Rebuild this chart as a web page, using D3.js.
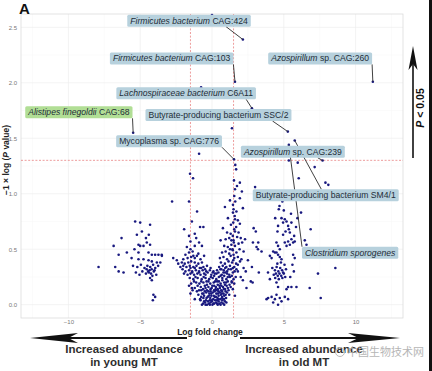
<!DOCTYPE html>
<html>
<head>
<meta charset="utf-8">
<script src="https://cdn.jsdelivr.net/npm/d3@7"></script>
<style>
  html, body { margin: 0; padding: 0; background: #fff; }
  svg { display: block; font-family: "Liberation Sans", Arial, sans-serif; }
</style>
</head>
<body>
<svg id="chart" width="432" height="371"></svg>
<script>
// tick labels and cut-offs
const xTicks = [-10, -5, 0, 5, 10];
const yTicks = [0, 0.5, 1, 1.5, 2, 2.5];
const foldCut = 1.5;
const pCut = 1.301; // -log10(0.05)

// labelled species: point (x, y) and label centre (lx, ly), in data units
const labelled = [
  { it: "Firmicutes bacterium", rest: " CAG:424", x: 2.15, y: 2.39, lx: -1.6, ly: 2.56, fx: 0.8, fy: 1 },
  { it: "Firmicutes bacterium", rest: " CAG:103", x: 1.6, y: 2.01, lx: -2.81, ly: 2.22, fx: 1, fy: 1 },
  { it: "Azospirillum", rest: " sp. CAG:260", x: 11.2, y: 2.01, lx: 7.53, ly: 2.22, fx: 1, fy: 1 },
  { it: "Lachnospiraceae bacterium", rest: " C6A11", x: 2.78, y: 1.77, lx: -1.8, ly: 1.905, fx: 0.93, fy: 1 },
  { it: "", rest: "Butyrate-producing bacterium SSC/2", x: 5.28, y: 1.56, lx: 0.45, ly: 1.71, fx: 0.87, fy: 1 },
  { it: "Alistipes finegoldii", rest: " CAG:68", x: -5.49, y: 1.55, lx: -9.27, ly: 1.734, fx: 1, fy: 1, green: true },
  { it: "", rest: "Mycoplasma sp. CAG:776", x: 1.53, y: 1.31, lx: -2.99, ly: 1.473, fx: 1, fy: 1 },
  { it: "Azospirillum", rest: " sp. CAG:239", x: 7.7, y: 1.3, lx: 5.63, ly: 1.378, fx: 0.74, fy: 1 },
  { it: "", rest: "Butyrate-producing bacterium SM4/1", x: 5.76, y: 1.48, lx: 7.92, ly: 0.986, fx: 0.47, fy: 0 },
  { it: "Clostridium sporogenes", rest: "", x: 5.35, y: 1.44, lx: 9.62, ly: 0.468, fx: 0, fy: 0 },
];

// unlabelled species, [log fold change, -log10 p]
const highPoints = [
  [0.0, 2.61], [-0.76, 1.96], [1.39, 1.59], [-0.9, 1.36], [-1.53, 1.18], [-1.32, 1.14],
  [1.62, 1.26], [1.68, 1.22], [5.35, 1.3], [5.97, 1.28], [7.15, 1.24], [6.04, 1.14],
  [7.9, 1.1], [8.1, 1.08], [3.0, 1.06],
];

const leftCluster = [
  [-7.9, 0.34], [-6.85, 0.53], [-6.74, 0.34], [-6.5, 0.45], [-6.5, 0.3], [-6.3, 0.6],
  [-6.16, 0.29], [-5.93, 0.47], [-5.35, 0.75], [-5.0, 0.74], [-4.31, 0.72], [-5.23, 0.63],
  [-4.88, 0.66], [-5.12, 0.54], [-5.0, 0.53], [-4.77, 0.53], [-4.54, 0.56], [-4.31, 0.54],
  [-5.12, 0.47], [-4.42, 0.47], [-4.19, 0.45], [-3.96, 0.45], [-3.73, 0.45], [-3.49, 0.44],
  [-5.12, 0.41], [-4.77, 0.41], [-4.42, 0.4], [-4.19, 0.39], [-3.84, 0.38],
  [-5.5, 0.35], [-5.2, 0.34], [-4.95, 0.36], [-4.7, 0.33], [-4.5, 0.35], [-4.3, 0.34],
  [-4.1, 0.36], [-3.95, 0.33], [-3.75, 0.35], [-5.3, 0.29], [-5.05, 0.27], [-4.85, 0.3],
  [-4.6, 0.28], [-4.45, 0.3], [-4.25, 0.28], [-4.05, 0.3], [-3.88, 0.27], [-4.55, 0.32],
  [-4.35, 0.31], [-4.2, 0.32], [-4.0, 0.31], [-4.4, 0.29], [-4.15, 0.26], [-4.19, 0.22],
  [-4.31, 0.24], [-4.08, 0.09], [-3.96, 0.07], [-4.12, 0.04], [-5.6, 0.42], [-4.6, 0.6],
  [-4.4, 0.63], [-3.6, 0.38], [-5.4, 0.5],
];

const centreCluster = [
  [-0.62, 0.01], [-0.48, 0.02], [-0.35, 0.0], [-0.22, 0.01], [-0.1, 0.02], [0.03, 0.0],
  [0.15, 0.01], [0.28, 0.02], [0.4, 0.0], [0.52, 0.01], [0.66, 0.02], [0.78, 0.01],
  [0.9, 0.03], [-0.42, 0.04], [-0.16, 0.04], [0.09, 0.05], [0.34, 0.04], [0.58, 0.05],
  [0.83, 0.05], [-0.55, 0.03], [-0.28, 0.03], [0.0, 0.03], [0.22, 0.04], [0.46, 0.03],
  [0.72, 0.04], [-0.6, 0.06], [-0.12, 0.06], [0.38, 0.06], [0.62, 0.09], [-0.25, 0.12],
  [0.18, 0.12], [0.45, 0.12], [-0.5, 0.12], [0.7, 0.12],
  [-0.75, 0.07], [-0.55, 0.08], [-0.3, 0.07], [-0.05, 0.08], [0.2, 0.07], [0.46, 0.08],
  [0.7, 0.07], [0.95, 0.09], [-0.68, 0.1], [-0.4, 0.11], [-0.18, 0.1], [0.05, 0.11],
  [0.3, 0.1], [0.55, 0.11], [0.8, 0.1], [1.05, 0.11],
  [-0.9, 0.13], [-0.62, 0.14], [-0.35, 0.13], [-0.1, 0.14], [0.14, 0.13], [0.4, 0.14],
  [0.64, 0.13], [0.9, 0.14], [1.15, 0.13], [-1.2, 0.15], [-0.78, 0.16], [-0.5, 0.17],
  [-0.25, 0.16], [0.02, 0.17], [0.27, 0.16], [0.52, 0.17], [0.77, 0.16], [1.02, 0.17], [1.3, 0.16],
  [-1.45, 0.19], [-1.1, 0.2], [-0.88, 0.19], [-0.6, 0.2], [-0.38, 0.21], [-0.12, 0.19],
  [0.12, 0.2], [0.36, 0.21], [0.6, 0.19], [0.85, 0.2], [1.1, 0.21], [1.38, 0.2],
  [-1.3, 0.23], [-1.0, 0.24], [-0.72, 0.23], [-0.45, 0.24], [-0.2, 0.23], [0.05, 0.24],
  [0.3, 0.23], [0.48, 0.25], [0.72, 0.24], [1.0, 0.23], [1.25, 0.25],
  [-1.7, 0.27], [-1.5, 0.28], [-1.25, 0.27], [-1.02, 0.28], [-0.8, 0.27], [-0.55, 0.28],
  [-0.3, 0.29], [-0.05, 0.27], [0.2, 0.28], [0.45, 0.29], [0.68, 0.27], [0.92, 0.29],
  [1.2, 0.27], [1.45, 0.29], [-1.85, 0.3], [-1.6, 0.31], [-1.38, 0.3], [-1.12, 0.31],
  [-0.9, 0.3], [-0.65, 0.31], [-0.4, 0.3], [-0.15, 0.31], [0.1, 0.3], [0.35, 0.31],
  [0.58, 0.32], [0.82, 0.31], [1.05, 0.3], [1.32, 0.32],
  [-2.2, 0.34], [-2.0, 0.35], [-1.78, 0.34], [-1.55, 0.35], [-1.3, 0.34], [-1.08, 0.35],
  [-0.85, 0.33], [-0.6, 0.34], [-0.35, 0.35], [-0.1, 0.33], [0.5, 0.34], [0.75, 0.35],
  [1.0, 0.34], [1.25, 0.35], [1.55, 0.34], [1.8, 0.36], [-2.35, 0.37], [-2.1, 0.38],
  [-1.9, 0.37], [-1.65, 0.38], [-1.45, 0.39], [-1.2, 0.38], [-0.95, 0.37], [-0.7, 0.38],
  [0.62, 0.38], [0.9, 0.37], [1.15, 0.39], [1.4, 0.38], [1.68, 0.37], [1.95, 0.39],
  [-2.0, 0.41], [-1.7, 0.42], [-1.45, 0.43], [-1.2, 0.42], [-0.8, 0.41], [-0.55, 0.44],
  [0.55, 0.42], [0.8, 0.43], [1.05, 0.41], [1.3, 0.44], [1.55, 0.42], [1.8, 0.43],
  [2.05, 0.41], [-1.6, 0.47], [-1.35, 0.48], [-0.95, 0.46], [0.7, 0.47], [0.95, 0.48],
  [1.2, 0.46], [1.45, 0.49], [1.7, 0.47], [1.92, 0.5], [2.2, 0.48], [-1.75, 0.52],
  [-0.7, 0.53], [0.85, 0.53], [1.1, 0.52], [1.35, 0.54], [1.6, 0.53], [1.85, 0.55], [2.1, 0.56],
  [-1.5, 0.57], [-1.1, 0.6], [0.6, 0.58], [0.95, 0.59], [1.2, 0.6], [1.5, 0.58],
  [1.75, 0.61], [2.0, 0.6], [2.3, 0.59], [-1.2, 0.64], [1.05, 0.65], [1.3, 0.64],
  [1.6, 0.66], [1.85, 0.65], [-0.83, 0.7], [-0.6, 0.7], [-1.94, 0.68], [0.76, 0.69],
  [1.32, 0.72], [1.94, 0.73], [1.11, 0.78], [1.6, 0.77], [1.8, 0.76], [-1.04, 0.84],
  [1.46, 0.83], [0.9, 0.88], [2.15, 0.87], [1.25, 0.94], [1.46, 0.9], [-2.78, 0.93],
  [-1.6, 0.93], [1.94, 0.96], [1.6, 1.04], [2.08, 1.02], [1.74, 1.07], [1.94, 1.1], [1.53, 1.12],
  [-3.5, 0.45], [-2.7, 0.42], [-2.45, 0.4], [-1.4, 0.15], [-0.83, 0.05], [1.37, 0.21],
  [1.6, 0.08], [-1.2, 0.05], [-1.5, 0.1], [1.8, 0.3], [2.2, 0.33], [2.0, 0.25], [2.4, 0.15],
  // denser core
  [-0.7, 0.0], [-0.45, 0.0], [-0.15, 0.0], [0.1, 0.01], [0.35, 0.01], [0.6, 0.0], [0.85, 0.0],
  [1.0, 0.02], [-0.8, 0.04], [-0.05, 0.04], [0.45, 0.05], [0.7, 0.06], [0.98, 0.06],
  [-0.38, 0.06], [0.12, 0.08], [0.28, 0.07], [-0.22, 0.08], [0.85, 0.08], [-0.95, 0.09],
  [-0.6, 0.1], [-0.05, 0.1], [0.42, 0.1], [0.68, 0.1], [1.2, 0.09], [-1.05, 0.12],
  [-0.1, 0.12], [0.32, 0.13], [0.95, 0.12], [-1.35, 0.13], [-0.75, 0.13], [-0.45, 0.15],
  [-0.02, 0.15], [0.25, 0.14], [0.55, 0.15], [0.82, 0.14], [1.1, 0.15], [1.45, 0.14],
  [-1.6, 0.17], [-1.0, 0.17], [-0.35, 0.18], [0.15, 0.17], [0.4, 0.18], [0.65, 0.17],
  [0.9, 0.18], [1.22, 0.18], [1.55, 0.19], [-1.25, 0.21], [-0.75, 0.21], [-0.25, 0.21],
  [0.22, 0.21], [0.48, 0.21], [0.72, 0.22], [0.98, 0.2], [1.5, 0.23], [-1.55, 0.24],
  [-1.15, 0.25], [-0.58, 0.25], [-0.08, 0.25], [0.15, 0.26], [0.6, 0.26], [0.85, 0.26],
  [1.1, 0.25], [1.38, 0.26], [1.65, 0.25], [-1.95, 0.28], [-1.38, 0.29], [-0.9, 0.29],
  [-0.45, 0.27], [0.05, 0.29], [0.32, 0.28], [0.8, 0.29], [1.05, 0.28], [1.58, 0.3],
  [-2.05, 0.32], [-1.5, 0.33], [-1.2, 0.33], [-0.75, 0.33], [-0.48, 0.32], [0.65, 0.32],
  [0.92, 0.33], [1.15, 0.32], [1.45, 0.33], [1.7, 0.32],
  // column along the right cut-off
  [1.48, 0.4], [1.5, 0.45], [1.42, 0.5], [1.52, 0.56], [1.45, 0.62], [1.55, 0.68],
  [1.48, 0.74], [1.58, 0.8], [1.5, 0.86], [1.62, 0.93], [1.55, 0.98], [1.7, 0.84],
  [1.35, 0.58], [1.68, 0.7], [1.25, 0.5],
  [-1.3, 0.44], [-1.05, 0.44], [-1.85, 0.45], [-1.5, 0.5], [-1.2, 0.53], [-1.6, 0.62],
  [-0.9, 0.56], [-1.4, 0.75],
];

const rightCluster = [
  [4.9, 0.93], [4.65, 0.86], [5.0, 0.85], [6.2, 0.83], [4.7, 0.89], [4.84, 0.78],
  [5.07, 0.77], [5.19, 0.75], [4.95, 0.74], [5.95, 0.78], [5.53, 0.74], [5.3, 0.71],
  [4.6, 0.71], [4.56, 0.66], [5.12, 0.66], [5.42, 0.65], [4.95, 0.63], [5.35, 0.68],
  [6.87, 0.68], [5.72, 0.62], [5.53, 0.59], [5.3, 0.57], [5.07, 0.56], [5.19, 0.53],
  [5.42, 0.54], [5.65, 0.56], [5.76, 0.57], [6.46, 0.58], [6.58, 0.54], [4.49, 0.56],
  [4.6, 0.53], [4.72, 0.5], [3.22, 0.56], [3.45, 0.48], [4.26, 0.48], [4.38, 0.47],
  [4.49, 0.47], [4.6, 0.45], [4.03, 0.44], [4.15, 0.42], [4.72, 0.43], [4.84, 0.41],
  [5.65, 0.45], [5.76, 0.42], [8.59, 0.33], [7.38, 0.28],
  [4.2, 0.33], [4.38, 0.31], [4.5, 0.34], [4.62, 0.3], [4.75, 0.33], [4.88, 0.31],
  [5.0, 0.28], [5.15, 0.32], [4.3, 0.27], [4.45, 0.28], [4.58, 0.26], [4.7, 0.28],
  [4.82, 0.26], [4.95, 0.29], [4.4, 0.24], [4.65, 0.23], [4.9, 0.24], [5.1, 0.25],
  [4.55, 0.37], [4.8, 0.38], [5.05, 0.36], [3.9, 0.29], [4.03, 0.23], [5.3, 0.16],
  [5.53, 0.16], [5.88, 0.16], [5.19, 0.14], [6.8, 0.15], [4.49, 0.2], [4.6, 0.16],
  [7.57, 0.06], [3.91, 0.06], [4.15, 0.07], [4.38, 0.05], [4.49, 0.09], [4.72, 0.06],
  [4.84, 0.03], [4.26, 0.02], [5.07, 0.07], [4.6, 0.0], [5.3, 0.05], [5.5, 0.82],
  [5.85, 0.7], [4.4, 0.78], [5.6, 0.36], [5.45, 0.25], [5.7, 0.3],
  [2.85, 0.56], [2.78, 0.34], [3.2, 0.5], [3.26, 0.29], [2.7, 0.21], [2.9, 0.69],
  [3.05, 0.66], [3.1, 0.52], [2.83, 0.2], [2.15, 0.22], [3.8, 0.05], [2.5, 0.4], [2.35, 0.3],
];

const margin = { top: 14, right: 29, bottom: 53, left: 21 };
const width = 432;
const height = 371;

const svg = d3.select("#chart");

const x = d3.scaleLinear().domain([-13.3, 13.3]).range([margin.left, width - margin.right]);
const y = d3.scaleLinear().domain([-0.12, 2.62]).range([height - margin.bottom, margin.top]);

// panel + grid
const panel = svg.append("g");
const xMinor = d3.range(-12.5, 13, 5);
const yMinor = d3.range(0.25, 2.6, 0.5);
panel.selectAll("line.vminor").data(xMinor).join("line")
  .attr("x1", (d) => x(d)).attr("x2", (d) => x(d))
  .attr("y1", y.range()[1]).attr("y2", y.range()[0])
  .attr("stroke", "#f6f6f6").attr("stroke-width", 0.5);
panel.selectAll("line.hminor").data(yMinor).join("line")
  .attr("y1", (d) => y(d)).attr("y2", (d) => y(d))
  .attr("x1", x.range()[0]).attr("x2", x.range()[1])
  .attr("stroke", "#f6f6f6").attr("stroke-width", 0.5);
panel.selectAll("line.vgrid").data(xTicks).join("line")
  .attr("x1", (d) => x(d)).attr("x2", (d) => x(d))
  .attr("y1", y.range()[1]).attr("y2", y.range()[0])
  .attr("stroke", "#eeeeee").attr("stroke-width", 0.7);
panel.selectAll("line.hgrid").data(yTicks).join("line")
  .attr("y1", (d) => y(d)).attr("y2", (d) => y(d))
  .attr("x1", x.range()[0]).attr("x2", x.range()[1])
  .attr("stroke", "#eeeeee").attr("stroke-width", 0.7);
panel.append("rect")
  .attr("x", x.range()[0]).attr("y", y.range()[1])
  .attr("width", x.range()[1] - x.range()[0])
  .attr("height", y.range()[0] - y.range()[1])
  .attr("fill", "none").attr("stroke", "#dcdcdc").attr("stroke-width", 0.8);

// axes (labels only, no lines)
const gx = svg.append("g")
  .attr("transform", `translate(0,${y.range()[0]})`)
  .call(d3.axisBottom(x).tickValues(xTicks).tickSize(0).tickPadding(2).tickFormat(d3.format("d")));
const gy = svg.append("g")
  .attr("transform", `translate(${x.range()[0] - 1},0)`)
  .call(d3.axisLeft(y).tickValues(yTicks).tickSize(0).tickPadding(3).tickFormat(d3.format(".1f")));
[gx, gy].forEach((g) => {
  g.select(".domain").remove();
  g.selectAll("text").attr("font-size", 6).attr("fill", "#777").attr("font-family", "Liberation Sans, Arial, sans-serif");
});

// threshold lines
const dash = { stroke: "#e57373", width: 0.7, dash: "2,1.6" };
[-foldCut, foldCut].forEach((v) => {
  svg.append("line")
    .attr("x1", x(v)).attr("x2", x(v))
    .attr("y1", y.range()[1]).attr("y2", y.range()[0])
    .attr("stroke", dash.stroke).attr("stroke-width", dash.width).attr("stroke-dasharray", dash.dash);
});
svg.append("line")
  .attr("x1", x.range()[0]).attr("x2", x.range()[1])
  .attr("y1", y(pCut)).attr("y2", y(pCut))
  .attr("stroke", dash.stroke).attr("stroke-width", dash.width).attr("stroke-dasharray", dash.dash);

// points
const allPoints = [
  ...leftCluster, ...centreCluster, ...rightCluster, ...highPoints,
  ...labelled.map((d) => [d.x, d.y]),
];
svg.append("g").selectAll("circle").data(allPoints).join("circle")
  .attr("cx", (d) => x(d[0]))
  .attr("cy", (d) => y(d[1]))
  .attr("r", 1.3)
  .attr("fill", "#18187f");

// repel-style labels
const labelLayer = svg.append("g");
const fontSize = 8.6;
const pad = 3;
const boxH = 12;
labelled.forEach((d) => {
  const g = labelLayer.append("g");
  const rect = g.append("rect");
  const text = g.append("text")
    .attr("font-size", fontSize)
    .attr("fill", "#1e2d38")
    .attr("text-anchor", "middle")
    .attr("x", x(d.lx))
    .attr("y", y(d.ly) + fontSize * 0.36);
  if (d.it) text.append("tspan").attr("font-style", "italic").text(d.it);
  if (d.rest) text.append("tspan").text(d.rest);
  const w = text.node().getComputedTextLength() + pad * 2;
  const bx = x(d.lx) - w / 2;
  const by = y(d.ly) - boxH / 2;
  rect.attr("x", bx).attr("y", by).attr("width", w).attr("height", boxH)
    .attr("rx", 1.5)
    .attr("fill", d.green ? "#b1de95" : "#b7d1dd");
  const sx = bx + d.fx * w;
  const sy = by + d.fy * boxH;
  labelLayer.insert("line", ":first-child")
    .attr("x1", sx).attr("y1", sy)
    .attr("x2", x(d.x)).attr("y2", y(d.y))
    .attr("stroke", "#2b2b2b").attr("stroke-width", 0.9);
});

// panel tag
svg.append("text").attr("x", 19).attr("y", 13.5)
  .attr("font-size", 15).attr("font-weight", "bold").attr("fill", "#111").text("A");

// axis titles
svg.append("text")
  .attr("x", (x.range()[0] + x.range()[1]) / 2 - 2).attr("y", 335)
  .attr("text-anchor", "middle").attr("font-size", 8.5).attr("font-weight", "bold").attr("fill", "#222")
  .text("Log fold change");

const yTitle = svg.append("text")
  .attr("transform", "translate(9,160) rotate(-90)")
  .attr("text-anchor", "middle").attr("font-size", 8.5).attr("font-weight", "bold").attr("fill", "#222");
yTitle.append("tspan").text("\u22121 \u00d7 log (");
yTitle.append("tspan").attr("font-style", "italic").text("P");
yTitle.append("tspan").text(" value)");

// direction arrows
function arrow(x1, x2, yy, headLen) {
  const dir = Math.sign(x2 - x1);
  svg.append("line")
    .attr("x1", x1).attr("x2", x2 - dir * headLen * 0.5).attr("y1", yy).attr("y2", yy)
    .attr("stroke", "#111").attr("stroke-width", 2.2);
  svg.append("path")
    .attr("d", `M${x2},${yy} L${x2 - dir * headLen},${yy - 5} L${x2 - dir * headLen * 0.8},${yy} L${x2 - dir * headLen},${yy + 5} Z`)
    .attr("fill", "#111");
}
arrow(187, 30, 338, 48);
arrow(240, 400, 338, 52);

// vertical significance arrow
svg.append("line").attr("x1", 413).attr("x2", 413).attr("y1", 158).attr("y2", 60)
  .attr("stroke", "#111").attr("stroke-width", 1.6);
svg.append("path").attr("d", "M413,46 L417.5,70 L413,64 L408.5,70 Z").attr("fill", "#111");
const pText = svg.append("text")
  .attr("transform", "translate(424,108) rotate(-90)")
  .attr("text-anchor", "middle").attr("font-size", 10.5).attr("font-weight", "bold").attr("fill", "#111");
pText.append("tspan").attr("font-style", "italic").text("P");
pText.append("tspan").text(" < 0.05");

// direction captions
const captions = [
  { cx: 124, lines: ["Increased abundance", "in young MT"] },
  { cx: 304, lines: ["Increased abundance", "in old MT"] },
];
captions.forEach((c) => {
  c.lines.forEach((line, i) => {
    svg.append("text")
      .attr("x", c.cx).attr("y", 353 + i * 13)
      .attr("text-anchor", "middle").attr("font-size", 11.5).attr("font-weight", "bold").attr("fill", "#2e2e2e")
      .text(line);
  });
});

// watermark
svg.append("circle").attr("cx", 340).attr("cy", 352).attr("r", 4.5)
  .attr("fill", "none").attr("stroke", "#bbb").attr("stroke-width", 1);
svg.append("text").attr("x", 347).attr("y", 356)
  .attr("font-size", 11).attr("fill", "#aaa").attr("opacity", 0.85)
  .attr("font-family", "Noto Sans CJK SC, sans-serif")
  .text("中国生物技术网");

// dark right edge of the scan
svg.append("rect").attr("x", 429).attr("y", 0).attr("width", 3).attr("height", height).attr("fill", "#111");
</script>
</body>
</html>
